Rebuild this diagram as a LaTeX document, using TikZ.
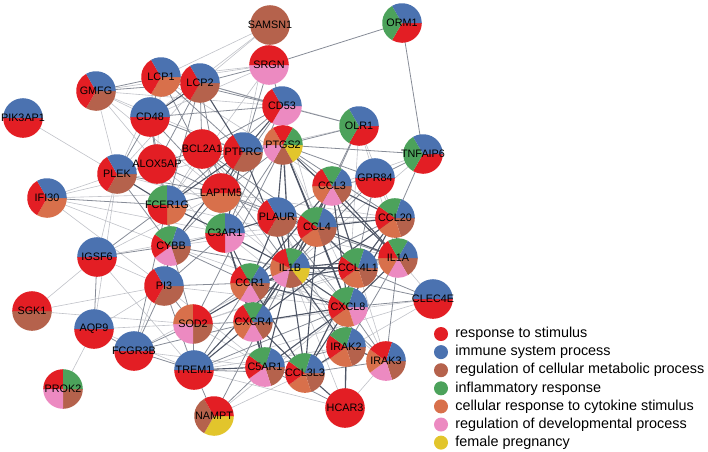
\documentclass[tikz,border=0pt]{standalone}
\usepackage{fontspec}
\setmainfont{Liberation Sans}
\usetikzlibrary{positioning,backgrounds}

\definecolor{cred}{HTML}{E31E24}
\definecolor{cblu}{HTML}{4B72B0}
\definecolor{cbrn}{HTML}{B5624C}
\definecolor{cgrn}{HTML}{4CA25B}
\definecolor{corg}{HTML}{D8704B}
\definecolor{cpnk}{HTML}{EC8AC1}
\definecolor{cyel}{HTML}{E2C52C}
\definecolor{edgec}{HTML}{4F5666}

% pie node: name, position, label, colours clockwise from east
\def\pr{19.8pt}
\newcommand{\gene}[4]{%
  \gdef\ns{0}%
  \foreach \c in {#4}{\pgfmathtruncatemacro\nt{\ns+1}\global\let\ns\nt}%
  \foreach \c [count=\i] in {#4}{%
    \pgfmathsetmacro\sa{-(\i-1)*360/\ns}%
    \fill[\c] (#2) -- +(\sa:\pr) arc[start angle=\sa, delta angle=-360/\ns, radius=\pr] -- cycle;}%
  \node[gn] (#1) at (#2) {#3};}

\begin{document}
\begin{tikzpicture}[x=1pt,y=1pt,
   gn/.style={circle,inner sep=0pt,minimum size=39pt,font=\fontsize{10.8}{12}\selectfont},
   weak/.style={draw=edgec!36,line width=0.6pt},
   mid/.style={draw=edgec!68,line width=0.8pt},
   strong/.style={draw=edgec,line width=1.1pt},
   key/.style={circle,inner sep=0pt,minimum size=14pt},
   keytxt/.style={inner sep=0pt,font=\fontsize{14.4}{16}\selectfont}]
  \useasboundingbox (0,0) rectangle (708,-451);

  % genes
  \gene{pik3ap1}{23,-118}{PIK3AP1}{cred,cblu}
  \gene{gmfg}{96,-91}{GMFG}{cbrn,cred,cblu}
  \gene{lcp1}{161,-77}{LCP1}{corg,cred,cblu}
  \gene{lcp2}{200,-83}{LCP2}{cbrn,cred,cblu}
  \gene{cd48}{150,-117}{CD48}{cred,cblu}
  \gene{bcl2a1}{202,-149}{BCL2A1}{cred}
  \gene{samsn1}{270,-25}{SAMSN1}{cbrn}
  \gene{srgn}{269,-65}{SRGN}{cpnk,cred}
  \gene{orm1}{402,-23}{ORM1}{cred,cgrn,cblu}
  \gene{cd53}{282,-106}{CD53}{cpnk,cred,cblu}
  \gene{olr1}{359,-126}{OLR1}{cred,cgrn,cblu}
  \gene{tnfaip6}{423,-154}{TNFAIP6}{cred,cgrn,cblu}
  \gene{ptgs2}{283,-145}{PTGS2}{cyel,cbrn,cpnk,corg,cred,cgrn}
  \gene{ptprc}{243,-152}{PTPRC}{cbrn,cred,cblu}
  \gene{plek}{117,-174}{PLEK}{cbrn,cred,cblu}
  \gene{alox5ap}{157,-164}{ALOX5AP}{cred}
  \gene{ifi30}{47,-198}{IFI30}{corg,cred,cblu}
  \gene{fcer1g}{167,-205}{FCER1G}{corg,cred,cgrn,cblu}
  \gene{laptm5}{221,-193}{LAPTM5}{corg,cred}
  \gene{c3ar1}{225,-233}{C3AR1}{cpnk,cred,cgrn,cblu}
  \gene{cybb}{171,-246}{CYBB}{cbrn,cpnk,cred,cgrn,cblu}
  \gene{igsf6}{97,-257}{IGSF6}{cred,cblu}
  \gene{pi3}{164,-286}{PI3}{cbrn,cred,cblu}
  \gene{ccl3}{332,-186}{CCL3}{cbrn,cpnk,corg,cred,cgrn,cblu}
  \gene{gpr84}{375,-178}{GPR84}{cred,cblu}
  \gene{plaur}{277,-217}{PLAUR}{cbrn,cred,cblu}
  \gene{ccl4}{317,-227}{CCL4}{cbrn,corg,cred,cgrn,cblu}
  \gene{ccl20}{395,-218}{CCL20}{cbrn,corg,cred,cgrn,cblu}
  \gene{il1a}{398,-258}{IL1A}{cbrn,cpnk,corg,cred,cgrn,cblu}
  \gene{il1b}{290,-268}{IL1B}{cyel,cbrn,cpnk,corg,cred,cgrn,cblu}
  \gene{ccl4l1}{358,-268}{CCL4L1}{cbrn,corg,cred,cgrn,cblu}
  \gene{ccr1}{250,-283}{CCR1}{cbrn,cpnk,corg,cred,cgrn,cblu}
  \gene{clec4e}{433,-299}{CLEC4E}{cred,cblu}
  \gene{sgk1}{32,-311}{SGK1}{cbrn,cred}
  \gene{aqp9}{94,-329}{AQP9}{cred,cblu}
  \gene{fcgr3b}{134,-351}{FCGR3B}{cred,cblu}
  \gene{prok2}{63,-389}{PROK2}{cbrn,cpnk,cred,cgrn}
  \gene{sod2}{193,-324}{SOD2}{cbrn,cpnk,corg,cred}
  \gene{trem1}{194,-370}{TREM1}{cred,cblu}
  \gene{nampt}{214,-416}{NAMPT}{cyel,cbrn,cred}
  \gene{cxcr4}{253,-322}{CXCR4}{cbrn,cpnk,corg,cred,cgrn,cblu}
  \gene{cxcl8}{348,-307}{CXCL8}{cpnk,corg,cred,cgrn,cblu}
  \gene{irak2}{346,-347}{IRAK2}{cbrn,corg,cred,cgrn,cblu}
  \gene{irak3}{386,-361}{IRAK3}{cbrn,cpnk,corg,cred,cblu}
  \gene{c5ar1}{265,-367}{C5AR1}{cbrn,cpnk,cred,cgrn,cblu}
  \gene{ccl3l3}{305,-373}{CCL3L3}{cbrn,corg,cred,cgrn,cblu}
  \gene{hcar3}{345,-408}{HCAR3}{cred}

  % interactions
  \begin{scope}[on background layer]
    \foreach \a/\b in {samsn1/lcp1,samsn1/cd48,samsn1/lcp2,samsn1/ptprc,srgn/gmfg,srgn/cd48,srgn/fcer1g,srgn/lcp1,
      pik3ap1/plek,gmfg/cd53,gmfg/plek,gmfg/cd48,gmfg/ptprc,gmfg/alox5ap,gmfg/laptm5,ifi30/plek,ifi30/cybb,
      ifi30/laptm5,ifi30/pi3,ifi30/c3ar1,ifi30/ptprc,igsf6/plek,igsf6/pi3,igsf6/trem1,igsf6/laptm5,igsf6/c3ar1,
      sgk1/pi3,sgk1/sod2,sgk1/igsf6,aqp9/prok2,aqp9/sod2,aqp9/pi3,aqp9/trem1,aqp9/plek,fcgr3b/c5ar1,fcgr3b/cybb,
      fcgr3b/il1b,hcar3/trem1,hcar3/il1b,hcar3/irak3,nampt/cxcl8,nampt/ccl3l3,clec4e/il1a,clec4e/ccl3l3,
      clec4e/trem1,clec4e/cxcr4,olr1/cxcl8,olr1/gpr84,olr1/ccl20,olr1/ptprc,olr1/lcp2,tnfaip6/il1b,tnfaip6/ccl3,
      gpr84/ccl20,gpr84/il1a,gpr84/ccl4,sod2/c5ar1,sod2/il1a,cybb/ccl4,lcp1/plek,lcp1/alox5ap,lcp2/plek,cd48/cybb,
      bcl2a1/fcer1g,bcl2a1/c3ar1,bcl2a1/cxcl8,lcp1/ccl3,cd53/ccl4,cd53/il1b,alox5ap/il1b,alox5ap/ccr1,laptm5/ccl20,
      laptm5/irak2,plek/ccl4,fcer1g/il1a,cybb/cxcl8,pi3/c5ar1,pi3/cxcl8,c3ar1/ccl20,c3ar1/irak3,sod2/ccl4l1,
      trem1/irak2,ccl3/irak3,plaur/irak2,ptgs2/irak3,ccr1/il1a}
      \draw[weak] (\a.center) -- (\b.center);
    \foreach \a/\b in {orm1/srgn,orm1/tnfaip6,cd53/olr1,tnfaip6/ccl20,tnfaip6/gpr84,tnfaip6/ptgs2,olr1/ptgs2,
      olr1/ccl3,olr1/il1b,gpr84/ccl3,gpr84/il1b,gpr84/cxcl8,gpr84/ptgs2,clec4e/cxcl8,clec4e/il1b,clec4e/ccl4l1,
      hcar3/cxcl8,hcar3/c5ar1,irak3/cxcl8,irak3/il1b,nampt/trem1,nampt/c5ar1,nampt/il1b,sod2/ccr1,sod2/cxcr4,
      sod2/ptgs2,sod2/trem1,sod2/pi3,pi3/fcgr3b,pi3/c3ar1,pi3/ccr1,fcgr3b/trem1,fcgr3b/fcer1g,fcgr3b/sod2,
      fcgr3b/cxcr4,aqp9/fcgr3b,aqp9/igsf6,igsf6/fcer1g,igsf6/cybb,ifi30/fcer1g,plek/alox5ap,plek/cd48,plek/cybb,
      plek/laptm5,alox5ap/bcl2a1,alox5ap/ptgs2,alox5ap/lcp2,alox5ap/fcer1g,alox5ap/laptm5,alox5ap/cd48,
      bcl2a1/ptprc,bcl2a1/lcp2,bcl2a1/ptgs2,bcl2a1/cd53,bcl2a1/il1b,bcl2a1/ccl4,bcl2a1/plaur,cd48/ptprc,cd48/cd53,
      cd48/lcp1,cd48/fcer1g,cd48/laptm5,lcp1/ptprc,lcp1/cd53,lcp1/gmfg,lcp1/laptm5,lcp2/gmfg,lcp2/cd53,
      lcp2/laptm5,lcp2/fcer1g,cd53/laptm5,cd53/fcer1g,cd53/c3ar1,cd53/srgn,srgn/ptprc,srgn/lcp2,laptm5/c3ar1,
      laptm5/cybb,laptm5/fcer1g,laptm5/ccl4,laptm5/plaur,cybb/c3ar1,cybb/ccr1,cybb/sod2,cybb/il1b,plaur/il1a,
      plaur/cxcl8,plaur/ccl3,plaur/ccl20,trem1/ccl3l3,trem1/cxcl8,trem1/ccr1,trem1/pi3,c5ar1/ccl3l3,c5ar1/irak2,
      irak3/ccl3l3,il1a/irak2,il1a/ccl4l1,il1a/irak3,ccl3/ptgs2,ptgs2/ptprc,ptgs2/cd53,ptgs2/ccl20,ptgs2/laptm5,
      ptgs2/c3ar1,ccl20/il1b}
      \draw[mid] (\a.center) -- (\b.center);
    \foreach \a/\b in {il1b/ccl4,il1b/ccl3,il1b/cxcl8,il1b/il1a,il1b/ptgs2,il1b/ccl4l1,il1b/ccr1,il1b/cxcr4,
      il1b/c5ar1,il1b/irak2,il1b/ccl3l3,il1b/plaur,il1b/sod2,il1b/trem1,il1b/ptprc,il1b/c3ar1,cxcl8/ccl4,
      cxcl8/ccl3,cxcl8/ccl20,cxcl8/il1a,cxcl8/cxcr4,cxcl8/c5ar1,cxcl8/ccr1,cxcl8/ptgs2,cxcl8/irak2,cxcl8/ccl3l3,
      ccl3/ccl4,ccl3/ccr1,ccl3/ccl20,ccl3/cxcr4,ccl3/ccl4l1,ccl4/ccr1,ccl4/cxcr4,ccl4/ccl20,ccl4/ccl4l1,
      ccl4/ccl3l3,ccr1/ccl3l3,ccr1/cxcr4,ccr1/c5ar1,cxcr4/c5ar1,cxcr4/ccl20,ccl20/il1a,ccl20/ccl4l1,
      ccl4l1/ccl3l3,ccl4l1/ccr1,il1a/ptgs2,il1a/ccl3,il1a/ccl4,ptprc/cd53,ptprc/lcp2,ptprc/fcer1g,ptprc/laptm5,
      ptprc/cybb,ptprc/c3ar1,lcp2/cd48,lcp2/lcp1,fcer1g/cybb,fcer1g/c3ar1,fcer1g/plek,c3ar1/c5ar1,c3ar1/plaur,
      c3ar1/ccr1,c3ar1/cxcr4,cybb/pi3,ptgs2/plaur,ptgs2/ccl4,plaur/ccl4,plaur/ccr1,trem1/c5ar1,trem1/cxcr4,
      ccl3l3/cxcr4,irak2/ccl3l3,irak2/irak3,hcar3/irak2,hcar3/ccl3l3}
      \draw[strong] (\a.center) -- (\b.center);
  \end{scope}

  % legend
  \node[key,fill=cred] (k1) at (441,-334) {};
  \node[key,fill=cblu,below=3.7pt of k1] (k2) {};
  \node[key,fill=cbrn,below=3.7pt of k2] (k3) {};
  \node[key,fill=cgrn,below=3.7pt of k3] (k4) {};
  \node[key,fill=corg,below=3.7pt of k4] (k5) {};
  \node[key,fill=cpnk,below=3.7pt of k5] (k6) {};
  \node[key,fill=cyel,below=3.7pt of k6] (k7) {};
  \node[keytxt,right=7pt of k1] {response to stimulus};
  \node[keytxt,right=7pt of k2] {immune system process};
  \node[keytxt,right=7pt of k3] {regulation of cellular metabolic process};
  \node[keytxt,right=7pt of k4] {inflammatory response};
  \node[keytxt,right=7pt of k5] {cellular response to cytokine stimulus};
  \node[keytxt,right=7pt of k6] {regulation of developmental process};
  \node[keytxt,right=7pt of k7] {female pregnancy};
\end{tikzpicture}
\end{document}
